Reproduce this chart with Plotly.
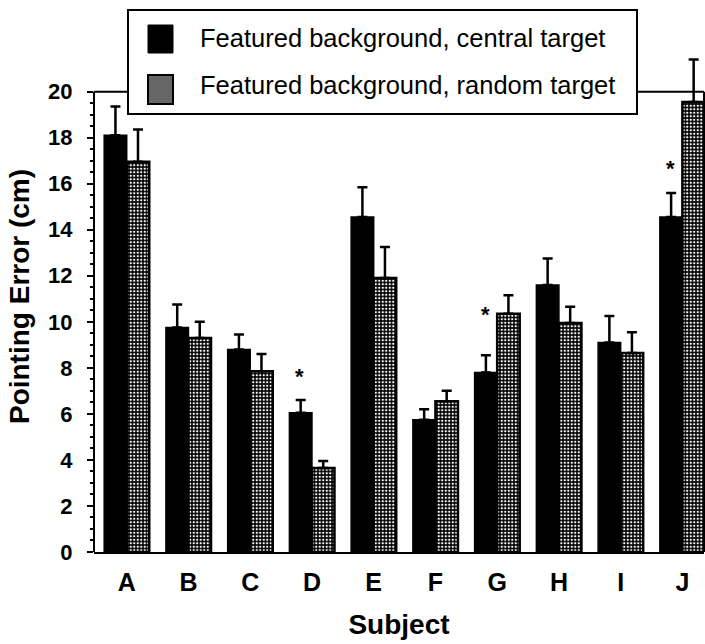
import plotly.graph_objects as go

# ---- data ----
subjects = ["A", "B", "C", "D", "E", "F", "G", "H", "I", "J"]
central_name = "Featured background, central target"
random_name = "Featured background, random target"
central_vals = [18.1, 9.75, 8.8, 6.05, 14.55, 5.75, 7.8, 11.6, 9.1, 14.55]
central_err = [1.25, 1.0, 0.65, 0.55, 1.3, 0.45, 0.75, 1.15, 1.15, 1.05]
random_vals = [16.95, 9.3, 7.85, 3.65, 11.9, 6.55, 10.35, 9.95, 8.65, 19.55]
random_err = [1.4, 0.7, 0.75, 0.3, 1.35, 0.45, 0.8, 0.7, 0.9, 1.85]
sig_subjects = ["D", "G", "J"]
sig_y = [7.85, 10.55, 16.9]
y_ticks = [0, 2, 4, 6, 8, 10, 12, 14, 16, 18, 20]
y_minor_ticks = [i * 0.5 for i in range(41)]
y_top = 20

FONT = "Liberation Sans, Arial, Helvetica, sans-serif"

fig = go.Figure()
fig.add_trace(go.Bar(
    x=subjects, y=central_vals, name=central_name,
    marker=dict(color="black", line=dict(color="black", width=1.5)),
    error_y=dict(type="data", array=central_err, arrayminus=[0] * len(central_err),
                 symmetric=False, color="black", thickness=2.5, width=5),
    showlegend=False,
))
fig.add_trace(go.Bar(
    x=subjects, y=random_vals, name=random_name,
    marker=dict(color="black", line=dict(color="black", width=2.5),
                pattern=dict(shape=".", fgcolor="white", bgcolor="black",
                             size=3.5, solidity=0.35, fillmode="replace")),
    error_y=dict(type="data", array=random_err, arrayminus=[0] * len(random_err),
                 symmetric=False, color="black", thickness=2.5, width=5),
    showlegend=False,
))

# significance markers above central bars
for s, yv in zip(sig_subjects, sig_y):
    fig.add_annotation(x=s, y=yv, text="*", showarrow=False, xshift=-12, yshift=-5,
                       font=dict(family=FONT, size=22, color="black", weight="bold"))

# frame: left, top and right lines ending at y = 20
for x0, x1, y0, y1 in [(0, 0, 0, y_top), (0, 1, y_top, y_top), (1, 1, 0, y_top)]:
    fig.add_shape(type="line", xref="paper", yref="y", x0=x0, x1=x1, y0=y0, y1=y1,
                  line=dict(color="black", width=2), layer="above")

# custom legend (box, swatches, labels)
PW, PL, PB, PH = 610, 94, 552, 511
def px(v):
    return (v - PL) / PW
def py(v):
    return (PB - v) / PH

fig.add_shape(type="rect", xref="paper", yref="paper",
              x0=px(128), x1=px(637), y0=py(114), y1=py(10),
              line=dict(color="black", width=2), fillcolor="white", layer="above")
fig.add_shape(type="rect", xref="paper", yref="paper",
              x0=px(148), x1=px(173), y0=py(53), y1=py(25),
              line=dict(color="black", width=1), fillcolor="black", layer="above")
fig.add_shape(type="rect", xref="paper", yref="paper",
              x0=px(148), x1=px(173), y0=py(104), y1=py(75),
              line=dict(color="black", width=2), fillcolor="#666666", layer="above")
for name, yc in [(central_name, 38), (random_name, 85)]:
    fig.add_annotation(xref="paper", yref="paper", x=px(198), y=py(yc),
                       xanchor="left", yanchor="middle", text=name, showarrow=False,
                       font=dict(family=FONT, size=25.5, color="black"))

fig.update_layout(
    width=705, height=644,
    margin=dict(l=94, r=1, t=41, b=92),
    paper_bgcolor="white", plot_bgcolor="white",
    barmode="group", bargap=0.27, bargroupgap=0.0,
    showlegend=False,
    font=dict(family=FONT, color="black"),
    xaxis=dict(
        range=[-0.53, 9.35], showline=True, linecolor="black", linewidth=2, mirror=False,
        ticks="", showgrid=False, zeroline=False,
        tickfont=dict(family=FONT, size=25, color="black", weight="bold"),
        ticklabelstandoff=7,
        title=dict(text="Subject", standoff=19,
                   font=dict(family=FONT, size=28, color="black", weight="bold")),
    ),
    yaxis=dict(
        range=[0, 22.2], showline=False,
        tickvals=y_ticks, ticks="outside", ticklen=6, tickwidth=2, tickcolor="black",
        minor=dict(tickvals=y_minor_ticks, ticks="outside", ticklen=3, tickwidth=1.5,
                   tickcolor="black", showgrid=False),
        showgrid=False, zeroline=False,
        tickfont=dict(family=FONT, size=22, color="black", weight="bold"),
        ticklabelstandoff=10,
        title=dict(text="Pointing Error (cm)", standoff=10,
                   font=dict(family=FONT, size=28, color="black", weight="bold")),
    ),
)

fig.write_html("out.html")
